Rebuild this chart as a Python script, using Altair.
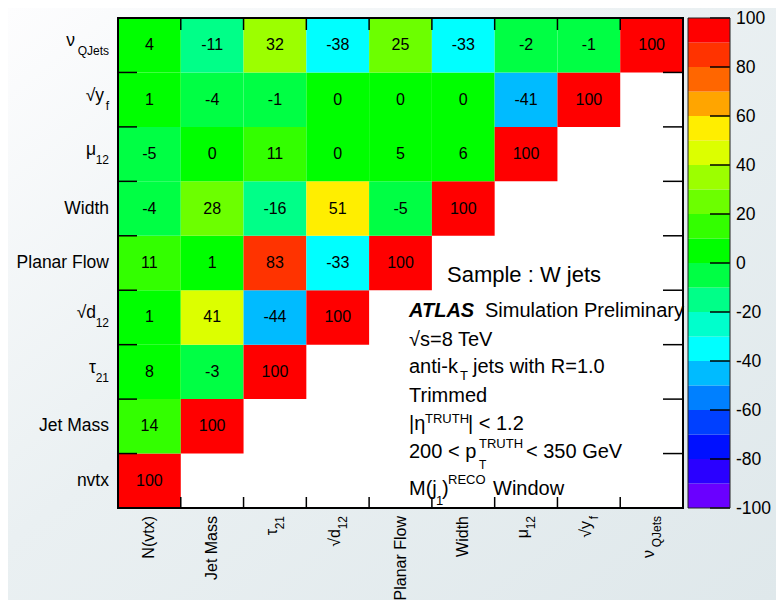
import altair as alt
import pandas as pd

FONT = "Liberation Sans, Arial, Helvetica, sans-serif"
W, H = 565, 490
TOP = 10

# variables: left->right on x, bottom->top on y
var_keys = ["nvtx", "jetmass", "tau21", "d12", "pf", "width", "mu12", "yf", "qjets"]
col_main = ["N(vtx)", "Jet Mass", "τ", "√d", "Planar Flow", "Width", "μ", "√y", "ν"]
row_main = ["nvtx", "Jet Mass", "τ", "√d", "Planar Flow", "Width", "μ", "√y", "ν"]
sub_txt = ["", "", "21", "12", "", "", "12", "f", "QJets"]

# correlation rows (values for columns nvtx ... up to diagonal)
corr_nvtx = [100]
corr_jetmass = [14, 100]
corr_tau21 = [8, -3, 100]
corr_d12 = [1, 41, -44, 100]
corr_pf = [11, 1, 83, -33, 100]
corr_width = [-4, 28, -16, 51, -5, 100]
corr_mu12 = [-5, 0, 11, 0, 5, 6, 100]
corr_yf = [1, -4, -1, 0, 0, 0, -41, 100]
corr_qjets = [4, -11, 32, -38, 25, -33, -2, -1, 100]

# colour palette (bottom -100 ... top 100), 20 bands of width 10
palette = ["#6a00ff", "#2a00ff", "#0010ff", "#0040ff", "#0080ff", "#00bbff",
           "#00ffff", "#00ffcc", "#00ff88", "#00ff44", "#00ff00", "#33ff00",
           "#6cff00", "#9cff00", "#dcff00", "#ffee00", "#ffa500", "#ff6600",
           "#ff3300", "#ff0000"]
band_edges = [-100, -90, -80, -70, -60, -50, -40, -30, -20, -10, 0,
              10, 20, 30, 40, 50, 60, 70, 80, 90, 100]
cbar_ticks = [-100, -80, -60, -40, -20, 0, 20, 40, 60, 80, 100]

rows_vals = [corr_nvtx, corr_jetmass, corr_tau21, corr_d12, corr_pf,
             corr_width, corr_mu12, corr_yf, corr_qjets]
recs = []
for ri, vals in enumerate(rows_vals):
    for ci, v in enumerate(vals):
        recs.append({"row": var_keys[ri], "col": var_keys[ci], "v": v, "lab": str(v)})
df = pd.DataFrame(recs)

xs = alt.Scale(domain=var_keys, paddingInner=0, paddingOuter=0)
ys = alt.Scale(domain=var_keys[::-1], paddingInner=0, paddingOuter=0)
cscale = alt.Scale(type="threshold", domain=band_edges[1:-1], range=palette)

one = pd.DataFrame({"k": [0]})

bg = alt.Chart(one).mark_rect(
    color=alt.LinearGradient(gradient="linear", x1=0, y1=0, x2=1, y2=1,
                             stops=[alt.GradientStop(offset=0, color="#fdfdfe"),
                                    alt.GradientStop(offset=0.45, color="#eaf0f2"),
                                    alt.GradientStop(offset=1, color="#dfe8eb")])
).encode(x=alt.value(-110), x2=alt.value(658), y=alt.value(-TOP), y2=alt.value(592 - TOP))

plot_bg = alt.Chart(one).mark_rect(color="white").encode(
    x=alt.value(0), x2=alt.value(W), y=alt.value(0), y2=alt.value(H))

cells = alt.Chart(df).mark_rect().encode(
    x=alt.X("col:N", scale=xs, axis=None),
    y=alt.Y("row:N", scale=ys, axis=None),
    color=alt.Color("v:Q", scale=cscale, legend=None),
)
nums = alt.Chart(df).mark_text(font=FONT, fontSize=16, color="black").encode(
    x=alt.X("col:N", scale=xs, axis=None),
    y=alt.Y("row:N", scale=ys, axis=None),
    text="lab:N",
)

bnd = pd.DataFrame({"k": var_keys})
tick_style = dict(color="black", strokeWidth=1.5)
left_ticks = alt.Chart(bnd).mark_rule(**tick_style).encode(
    y=alt.Y("k:N", scale=ys, axis=None, bandPosition=0), x=alt.value(0), x2=alt.value(19))
right_ticks = alt.Chart(bnd).mark_rule(**tick_style).encode(
    y=alt.Y("k:N", scale=ys, axis=None, bandPosition=0), x=alt.value(W - 20), x2=alt.value(W))
top_ticks = alt.Chart(bnd).mark_rule(**tick_style).encode(
    x=alt.X("k:N", scale=xs, axis=None, bandPosition=0), y=alt.value(0), y2=alt.value(12))
bot_ticks = alt.Chart(bnd).mark_rule(**tick_style).encode(
    x=alt.X("k:N", scale=xs, axis=None, bandPosition=0), y=alt.value(H - 11), y2=alt.value(H))

lab_df = pd.DataFrame({"k": var_keys, "cmain": col_main, "rmain": row_main, "sub": sub_txt})
sub_gap = {"": 0, "QJets": 34, "12": 13, "21": 13, "f": 5}

label_layers = []
for s, gap in sub_gap.items():
    part = lab_df[lab_df["sub"] == s]
    if part.empty:
        continue
    # y-axis labels
    label_layers.append(alt.Chart(part).mark_text(
        font=FONT, fontSize=17.5, align="right", baseline="middle", color="black",
        dx=-(9 + gap), dy=(-4 if s else 0)).encode(
        y=alt.Y("k:N", scale=ys, axis=None), x=alt.value(0), text="rmain:N"))
    # x-axis labels (rotated)
    label_layers.append(alt.Chart(part).mark_text(
        font=FONT, fontSize=16, align="right", baseline="middle", color="black",
        angle=270, dx=-gap, dy=(-3 if s else 0)).encode(
        x=alt.X("k:N", scale=xs, axis=None), y=alt.value(H + 8), text="cmain:N"))
    if s:
        label_layers.append(alt.Chart(part).mark_text(
            font=FONT, fontSize=12, align="right", baseline="middle", color="black",
            dx=-9, dy=6).encode(
            y=alt.Y("k:N", scale=ys, axis=None), x=alt.value(0), text="sub:N"))
        label_layers.append(alt.Chart(part).mark_text(
            font=FONT, fontSize=12, align="right", baseline="middle", color="black",
            angle=270, dy=5).encode(
            x=alt.X("k:N", scale=xs, axis=None), y=alt.value(H + 8), text="sub:N"))


def ann(t, x, y, size=20, weight="normal", style="normal"):
    return alt.Chart(pd.DataFrame({"t": [t]})).mark_text(
        font=FONT, fontSize=size, fontWeight=weight, fontStyle=style,
        align="left", baseline="alphabetic", color="black").encode(
        x=alt.value(x), y=alt.value(y - 4), text="t:N")


annots = [
    ann("Sample : W jets", 329, 268, 22),
    ann("ATLAS", 291, 303, 20, "bold", "italic"),
    ann("Simulation Preliminary", 367, 303),
    ann("√s=8 TeV", 291, 332),
    ann("anti-k", 291, 359),
    ann("T", 342, 366, 13),
    ann("jets with R=1.0", 355, 359),
    ann("Trimmed", 291, 388),
    ann("|η", 291, 416),
    ann("TRUTH", 307, 409, 13),
    ann("| < 1.2", 350, 416),
    ann("200 < p", 291, 444),
    ann("TRUTH", 361, 434, 13),
    ann("T", 361, 455, 12),
    ann("< 350 GeV", 408, 444),
    ann("M(j", 291, 481),
    ann("1", 318, 491, 13),
    ann(")", 324, 481),
    ann("RECO", 330, 470, 13),
    ann("Window", 375, 481),
]

frame = alt.Chart(one).mark_rect(filled=False, stroke="black", strokeWidth=2).encode(
    x=alt.value(0), x2=alt.value(W), y=alt.value(0), y2=alt.value(H))

heat = alt.layer(bg, plot_bg, cells, nums, left_ticks, right_ticks, top_ticks, bot_ticks,
                 *label_layers, *annots, frame)

# colour bar
cb_df = pd.DataFrame({"lo": band_edges[:-1], "hi": band_edges[1:]})
cb_df["mid"] = (cb_df["lo"] + cb_df["hi"]) / 2
cys = alt.Scale(domain=[-100, 100], nice=False, zero=False)
cb_rect = alt.Chart(cb_df).mark_rect().encode(
    x=alt.value(570), x2=alt.value(612),
    y=alt.Y("lo:Q", scale=cys, axis=None),
    y2="hi:Q",
    color=alt.Color("mid:Q", scale=cscale, legend=None),
)
tick_df = pd.DataFrame({"t": cbar_ticks, "lab": [str(t) for t in cbar_ticks]})
cb_ticks = alt.Chart(tick_df).mark_rule(color="black", strokeWidth=1.5).encode(
    y=alt.Y("t:Q", scale=cys, axis=None), x=alt.value(592), x2=alt.value(612))
cb_labels = alt.Chart(tick_df).mark_text(
    font=FONT, fontSize=17.5, align="left", baseline="middle", color="black", dy=1).encode(
    y=alt.Y("t:Q", scale=cys, axis=None), x=alt.value(618), text="lab:N")
cb_frame = alt.Chart(one).mark_rect(filled=False, stroke="#222222", strokeWidth=1).encode(
    x=alt.value(570), x2=alt.value(612), y=alt.value(0), y2=alt.value(H))
cbar = alt.layer(cb_rect, cb_ticks, cb_frame, cb_labels)

chart = alt.layer(heat, cbar).resolve_scale(y="independent").properties(
    width=W, height=H,
    autosize=alt.AutoSizeParams(type="none"),
    padding={"left": 110, "top": TOP, "right": 93, "bottom": 592 - TOP - H},
    background="#eef2f4",
).configure_view(stroke=None)

chart.save("out.html", embed_options={"renderer": "svg", "actions": False})
